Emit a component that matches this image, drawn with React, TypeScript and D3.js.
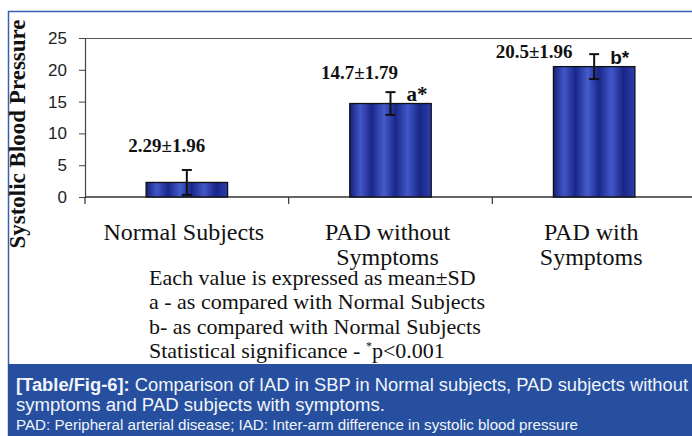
import * as d3 from "d3";
import React, { useEffect, useRef } from "react";

const categories = ["Normal Subjects", "PAD without Symptoms", "PAD with Symptoms"];
const categoryLines = [["Normal Subjects"], ["PAD without", "Symptoms"], ["PAD with", "Symptoms"]];
const means = [2.29, 14.7, 20.5];
const sds = [1.96, 1.79, 1.96];
const valueLabels = ["2.29±1.96", "14.7±1.79", "20.5±1.96"];
const sigMarks = ["", "a*", "b*"];
const yTicks = [0, 5, 10, 15, 20, 25];

const footnotes = [
  "Each value is expressed as mean±SD",
  "a - as compared with Normal Subjects",
  "b- as compared with Normal Subjects",
];

// label offsets picked by eye from the original (px relative to bar centre / error top)
const labelShift = [
  { dx: -20, dy: -18 },
  { dx: -31, dy: -13 },
  { dx: -60, dy: 4 },
];

const W = 692;
const H = 436;

export default function App() {
  const svgRef = useRef<SVGSVGElement | null>(null);

  useEffect(() => {
    if (!svgRef.current) return;
    const svg = d3.select(svgRef.current);
    svg.selectAll("*").remove();

    const margin = { top: 38, left: 85, right: 696, bottom: 197 };

    const x = d3
      .scaleBand<string>()
      .domain(categories)
      .range([margin.left, margin.right])
      .padding(0);
    const y = d3.scaleLinear().domain([0, 25]).range([margin.bottom, margin.top]);

    const defs = svg.append("defs");
    const grad = defs
      .append("linearGradient")
      .attr("id", "barGrad")
      .attr("x1", "0%")
      .attr("x2", "100%")
      .attr("y1", "0%")
      .attr("y2", "0%");
    const stops: [number, string][] = [
      [0, "#16207a"],
      [0.13, "#4157c8"],
      [0.27, "#1a278a"],
      [0.42, "#455ccc"],
      [0.56, "#1a278a"],
      [0.71, "#4157c8"],
      [0.86, "#192686"],
      [1, "#2c3fae"],
    ];
    stops.forEach(([o, c]) => grad.append("stop").attr("offset", o).attr("stop-color", c));

    // outer frame (blue hairline)
    svg
      .append("path")
      .attr("d", `M8.5,${H} V11.5 H${W}`)
      .attr("fill", "none")
      .attr("stroke", "#3b5fae")
      .attr("stroke-width", 1.5);

    // plot frame
    svg
      .append("line")
      .attr("x1", margin.left)
      .attr("x2", W)
      .attr("y1", margin.top + 0.5)
      .attr("y2", margin.top + 0.5)
      .attr("stroke", "#555")
      .attr("stroke-width", 1.2);

    const yAxis = svg
      .append("g")
      .attr("transform", `translate(${margin.left},0)`)
      .call(d3.axisLeft(y).tickValues(yTicks).tickSize(6).tickPadding(12));
    yAxis.select(".domain").attr("stroke", "#444").attr("stroke-width", 1.2);
    yAxis.selectAll(".tick line").attr("stroke", "#444");
    yAxis
      .selectAll(".tick text")
      .attr("font-family", "'Liberation Sans', Arial, sans-serif")
      .attr("font-size", 17)
      .attr("fill", "#222");

    // baseline + category ticks
    svg
      .append("line")
      .attr("x1", margin.left)
      .attr("x2", W)
      .attr("y1", margin.bottom)
      .attr("y2", margin.bottom)
      .attr("stroke", "#333")
      .attr("stroke-width", 1.4);
    const bounds = categories.map((c) => x(c) as number);
    svg
      .selectAll(".ctick")
      .data(bounds)
      .enter()
      .append("line")
      .attr("x1", (d) => d)
      .attr("x2", (d) => d)
      .attr("y1", margin.bottom)
      .attr("y2", margin.bottom + 7)
      .attr("stroke", "#333")
      .attr("stroke-width", 1.2);

    const bw = x.bandwidth() * 0.4;
    const cx = (i: number) => (x(categories[i]) as number) + x.bandwidth() / 2;

    svg
      .selectAll(".bar")
      .data(means)
      .enter()
      .append("rect")
      .attr("x", (_, i) => cx(i) - bw / 2)
      .attr("y", (d) => y(d))
      .attr("width", bw)
      .attr("height", (d) => y(0) - y(d))
      .attr("fill", "url(#barGrad)")
      .attr("stroke", "#111")
      .attr("stroke-width", 1.3);

    // error bars
    const err = svg.append("g").attr("stroke", "#111").attr("stroke-width", 2);
    means.forEach((m, i) => {
      const hi = y(m + sds[i]);
      const lo = y(Math.max(0, m - sds[i]));
      err.append("line").attr("x1", cx(i)).attr("x2", cx(i)).attr("y1", hi).attr("y2", lo);
      err.append("line").attr("x1", cx(i) - 5).attr("x2", cx(i) + 5).attr("y1", hi).attr("y2", hi);
      err.append("line").attr("x1", cx(i) - 5).attr("x2", cx(i) + 5).attr("y1", lo).attr("y2", lo);
    });

    // value labels
    svg
      .selectAll(".vlab")
      .data(valueLabels)
      .enter()
      .append("text")
      .attr("x", (_, i) => cx(i) + labelShift[i].dx)
      .attr("y", (_, i) => y(means[i] + sds[i]) + labelShift[i].dy)
      .attr("text-anchor", "middle")
      .attr("font-family", "'Liberation Serif', 'Times New Roman', serif")
      .attr("font-weight", "bold")
      .attr("font-size", 19)
      .attr("fill", "#111")
      .text((d) => d);

    // significance marks
    sigMarks.forEach((s, i) => {
      if (!s) return;
      svg
        .append("text")
        .attr("x", cx(i) + 16)
        .attr("y", y(means[i]) - 3)
        .attr(
          "font-family",
          i === 2 ? "'Liberation Sans', Arial, sans-serif" : "'Liberation Serif', 'Times New Roman', serif"
        )
        .attr("font-weight", "bold")
        .attr("font-size", i === 2 ? 19 : 21)
        .attr("fill", "#111")
        .text(s);
    });

    // category labels
    categoryLines.forEach((lines, i) => {
      const t = svg
        .append("text")
        .attr("text-anchor", "middle")
        .attr("font-family", "'Liberation Serif', 'Times New Roman', serif")
        .attr("font-size", 24)
        .attr("fill", "#111");
      lines.forEach((l, j) => {
        t.append("tspan")
          .attr("x", cx(i) - 3)
          .attr("y", 240 + j * 25)
          .text(l);
      });
    });

    // y axis title
    svg
      .append("text")
      .attr("transform", `translate(25,${(margin.top + 230) / 2}) rotate(-90)`)
      .attr("text-anchor", "middle")
      .attr("font-family", "'Liberation Serif', 'Times New Roman', serif")
      .attr("font-weight", "bold")
      .attr("font-size", 23)
      .attr("fill", "#111")
      .text("Systolic Blood Pressure");

    // footnotes
    const fn = svg
      .append("text")
      .attr("font-family", "'Liberation Serif', 'Times New Roman', serif")
      .attr("font-size", 22)
      .attr("fill", "#111");
    footnotes.forEach((f, j) => {
      fn.append("tspan").attr("x", 149).attr("y", 285 + j * 24.3).text(f);
    });
    const last = fn.append("tspan").attr("x", 149).attr("y", 285 + 3 * 24.3);
    last.append("tspan").text("Statistical significance - ");
    last.append("tspan").attr("font-size", 12).attr("dy", -8).text("*");
    last.append("tspan").attr("dy", 8).text("p<0.001");

    // caption box
    svg
      .append("rect")
      .attr("x", 8)
      .attr("y", 364)
      .attr("width", W - 8)
      .attr("height", H - 364)
      .attr("fill", "#26509f");
    const cap = svg
      .append("g")
      .attr("font-family", "'Liberation Sans', Arial, sans-serif")
      .attr("fill", "#f2f5fb");
    const l1 = cap
      .append("text")
      .attr("x", 16)
      .attr("y", 391)
      .attr("font-size", 18)
      .attr("textLength", 672)
      .attr("lengthAdjust", "spacingAndGlyphs");
    l1.append("tspan").attr("font-weight", "bold").text("[Table/Fig-6]:");
    l1.append("tspan").text(" Comparison of IAD in SBP in Normal subjects, PAD subjects without");
    cap
      .append("text")
      .attr("x", 16)
      .attr("y", 411)
      .attr("font-size", 18)
      .attr("textLength", 369)
      .attr("lengthAdjust", "spacingAndGlyphs")
      .text("symptoms and PAD subjects with symptoms.");
    cap
      .append("text")
      .attr("x", 16)
      .attr("y", 430)
      .attr("font-size", 15)
      .attr("textLength", 562)
      .attr("lengthAdjust", "spacingAndGlyphs")
      .text("PAD: Peripheral arterial disease; IAD: Inter-arm difference in systolic blood pressure");
  }, []);

  return (
    <div style={{ width: W, height: H, background: "#fff" }}>
      <style>{`body{margin:0;background:#fff}`}</style>
      <svg ref={svgRef} width={W} height={H} style={{ display: "block" }}></svg>
    </div>
  );
}
